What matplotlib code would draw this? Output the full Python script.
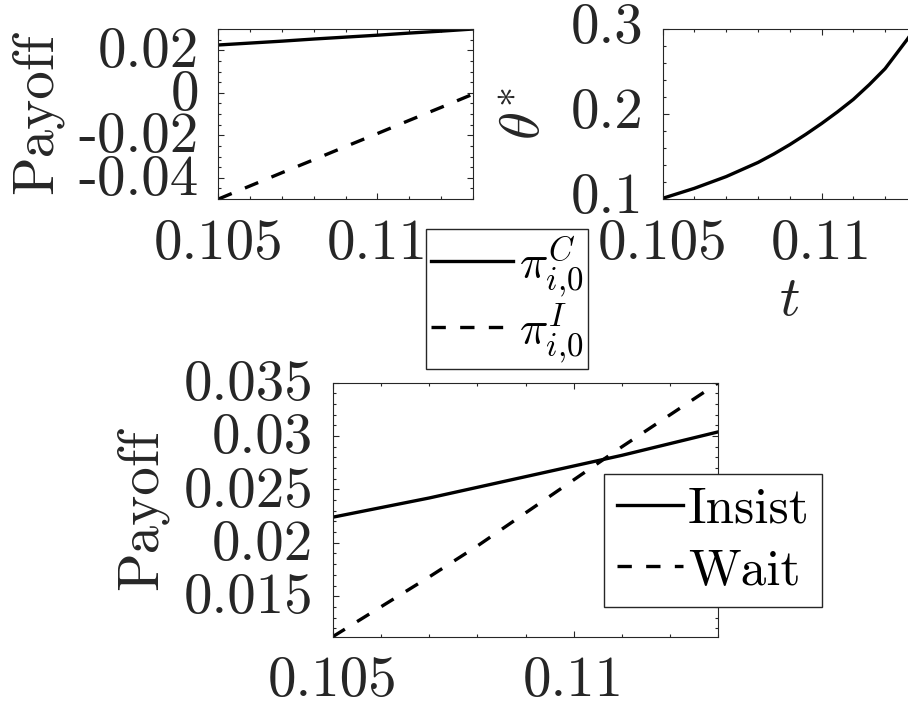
import matplotlib
matplotlib.use("Agg")
import matplotlib.pyplot as plt
from matplotlib.ticker import FixedLocator, MultipleLocator
from matplotlib.transforms import ScaledTranslation

plt.rcParams['font.family'] = 'serif'
plt.rcParams['font.serif'] = ['cmr10', 'DejaVu Serif']
plt.rcParams['mathtext.fontset'] = 'cm'
plt.rcParams['axes.unicode_minus'] = False

# DATOS
t_top = [0.105, 0.106, 0.107, 0.108, 0.109, 0.110, 0.111, 0.112, 0.113]
pi_C = [0.0225, 0.0234, 0.0243, 0.0253, 0.0262, 0.0271, 0.0281, 0.0290, 0.0300]
pi_I = [-0.0500, -0.0438, -0.0376, -0.0315, -0.0253, -0.0192, -0.0130, -0.0069, -0.0007]

t_theta = [0.105, 0.106, 0.107, 0.108, 0.1085, 0.109, 0.1095, 0.110, 0.1105,
           0.111, 0.1115, 0.112, 0.1127, 0.113]
theta = [0.1008, 0.1126, 0.1264, 0.1430, 0.1530, 0.1640, 0.1760, 0.1888, 0.2025,
         0.2172, 0.2345, 0.2534, 0.2880, 0.3040]

t_bot = [0.105, 0.106, 0.107, 0.108, 0.109, 0.110, 0.111, 0.112, 0.113]
insist = [0.0224, 0.0233, 0.0242, 0.0252, 0.0262, 0.0272, 0.0282, 0.0293, 0.0304]
wait = [0.0112, 0.0140, 0.0168, 0.0197, 0.0228, 0.0259, 0.0290, 0.0320, 0.0350]

xticks = [0.105, 0.11]
xticklabels = ['0.105', '0.11']

FS = 41
LW = 2.4
DASH = (4.3, 4.3)
GRIS = '#262626'


def estilo(ax, yt, ytl, ymenor, subir=3):
    ax.xaxis.set_major_locator(FixedLocator(xticks))
    ax.set_xticklabels(xticklabels)
    ax.xaxis.set_minor_locator(MultipleLocator(0.001))
    ax.yaxis.set_major_locator(FixedLocator(yt))
    ax.set_yticklabels(ytl)
    ax.yaxis.set_minor_locator(MultipleLocator(ymenor))
    ax.tick_params(which='both', direction='in', top=True, right=True,
                   labelsize=FS, color=GRIS, labelcolor=GRIS, width=0.8)
    ax.tick_params(which='major', length=4, pad=14)
    ax.tick_params(which='minor', length=2.5)
    ax.tick_params(axis='y', pad=14)
    # las etiquetas del eje y van un poco mas arriba, como en MATLAB
    off = ScaledTranslation(0, subir / 100, fig.dpi_scale_trans)
    for lab in ax.get_yticklabels():
        lab.set_transform(lab.get_transform() + off)
    for s in ax.spines.values():
        s.set_color(GRIS)
        s.set_linewidth(0.8)


fig = plt.figure(figsize=(9.08, 7.10), dpi=100)

# arriba izquierda
ax1 = fig.add_axes([0.2406, 0.7197, 0.2800, 0.2394])
l1, = ax1.plot(t_top, pi_C, color='black', lw=LW)
l2, = ax1.plot(t_top, pi_I, color='black', lw=LW, ls='--', dashes=DASH)
ax1.set_xlim(0.105, 0.113)
ax1.set_ylim(-0.05, 0.03)
estilo(ax1, [-0.04, -0.02, 0, 0.02], ['-0.04', '-0.02', '0', '0.02'], 0.005)
ax1.set_ylabel('Payoff', fontsize=FS, color=GRIS, labelpad=11)
ax1.legend([l1, l2], [r'$\pi^{C}_{i{,}0}$', r'$\pi^{I}_{i{,}0}$'],
           loc='upper left', bbox_to_anchor=(0.4692, 0.677),
           bbox_transform=fig.transFigure, fontsize=34, fancybox=False,
           edgecolor=GRIS, framealpha=1, borderaxespad=0, borderpad=0.1,
           handlelength=1.75, handletextpad=0.12, labelspacing=0.05)

# arriba derecha
ax2 = fig.add_axes([0.7298, 0.7197, 0.2800, 0.2394])
ax2.plot(t_theta, theta, color='black', lw=LW)
ax2.set_xlim(0.105, 0.113)
ax2.set_ylim(0.1, 0.3)
estilo(ax2, [0.1, 0.2, 0.3], ['0.1', '0.2', '0.3'], 0.02, subir=6)
ax2.set_ylabel(r'$\theta^{*}$', fontsize=FS, color=GRIS, labelpad=14)
ax2.set_xlabel(r'$t$', fontsize=FS, color=GRIS, labelpad=4)

# abajo
ax3 = fig.add_axes([0.3664, 0.1032, 0.4247, 0.3577])
ax3.plot(t_bot, insist, color='black', lw=LW, label='Insist')
ax3.plot(t_bot, wait, color='black', lw=LW, ls='--', dashes=DASH, label='Wait')
ax3.set_xlim(0.105, 0.113)
ax3.set_ylim(0.0112, 0.035)
estilo(ax3, [0.015, 0.02, 0.025, 0.03, 0.035],
       ['0.015', '0.02', '0.025', '0.03', '0.035'], 0.001)
ax3.set_ylabel('Payoff', fontsize=FS, color=GRIS, labelpad=11)
ax3.legend(loc='upper left', bbox_to_anchor=(0.6652, 0.3324),
           bbox_transform=fig.transFigure, fontsize=37, fancybox=False,
           edgecolor=GRIS, framealpha=1, borderaxespad=0, borderpad=0.25,
           handlelength=1.28, handletextpad=0.1, labelspacing=0.3)

fig.savefig('out.png', dpi=100)
